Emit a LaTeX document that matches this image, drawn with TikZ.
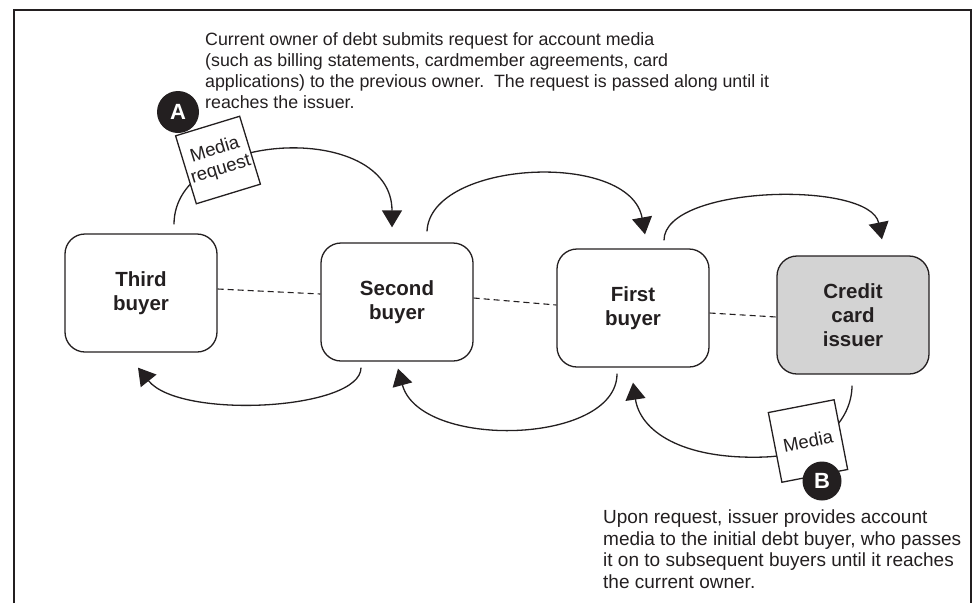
\documentclass[tikz,border=0pt]{standalone}
\usepackage{fontspec}
\setmainfont{Liberation Sans}
\usetikzlibrary{arrows.meta}
\definecolor{ink}{HTML}{231F20}
\definecolor{issuergray}{HTML}{D3D3D3}
\begin{document}
\begin{tikzpicture}[x=1pt,y=-1pt,
  buyer/.style={draw=ink, line width=1.3pt, rounded corners=20pt, minimum width=152pt, minimum height=118pt, align=center, font=\fontsize{20.5}{24}\selectfont\bfseries, text=ink},
  link/.style={draw=ink, line width=1.1pt, dash pattern=on 6pt off 4pt},
  flow/.style={draw=ink, line width=1.3pt, -{Triangle[width=20pt,length=17pt]}},
  paper/.style={draw=ink, fill=white, line width=1.3pt, minimum width=67pt, minimum height=71pt, inner sep=1pt, align=center, font=\fontsize{18.5}{20}\selectfont, text=ink},
  badge/.style={circle, fill=ink, inner sep=0pt, text=white, font=\fontsize{22}{22}\selectfont\bfseries},
  note/.style={align=left, anchor=north west, inner sep=0pt, text=ink}]
\useasboundingbox (0,0) rectangle (974,603);
\draw[ink, line width=1.5pt] (14,603) -- (14,10) -- (971,10) -- (971,603);

\node[buyer] (third) at (141,293) {Third\\buyer};
\node[buyer] (second) at (397,302) {Second\\buyer};
\node[buyer] (first) at (633,308) {First\\buyer};
\node[buyer, fill=issuergray] (issuer) at (853,315) {Credit\\card\\issuer};

\draw[link] ([yshift=4pt]third.east) -- ([yshift=8pt]second.west);
\draw[link] ([yshift=4pt]second.east) -- ([yshift=3pt]first.west);
\draw[link] ([yshift=-5pt]first.east) -- ([yshift=-2pt]issuer.west);

\draw[flow] ([xshift=33pt,yshift=9pt]third.north) .. controls (174,130) and (392,120) .. ([xshift=-5pt,yshift=15pt]second.north);
\draw[flow] ([xshift=30pt,yshift=11pt]second.north) .. controls (430,160) and (630,150) .. ([xshift=12pt,yshift=14pt]first.north);
\draw[flow] ([xshift=31pt,yshift=8pt]first.north) .. controls (664,185) and (870,180) .. ([xshift=29pt,yshift=16pt]issuer.north);

\draw[flow] ([xshift=-36pt,yshift=-6pt]second.south) .. controls (361,410) and (180,420) .. ([xshift=-3pt,yshift=-15pt]third.south);
\draw[flow] ([xshift=-16pt,yshift=-6pt]first.south) .. controls (617,445) and (420,450) .. ([xshift=1pt,yshift=-7pt]second.south);
\draw[flow] ([xshift=-1pt,yshift=-11pt]issuer.south) .. controls (852,420) and (820,455) .. (765,457) .. controls (680,460) and (640,430) .. ([yshift=-15pt]first.south);

\node[paper, rotate=17] (req) at (218,160) {Media\\request};
\node[paper, rotate=11] (media) at (808,441) {Media};
\node[badge, minimum size=42pt] (a) at (178,112) {A};
\node[badge, minimum size=39pt] (b) at (822,481) {B};

\node[note, font=\fontsize{17.8}{21}\selectfont] (topnote) at (205,32) {Current owner of debt submits request for account media\\(such as billing statements, cardmember agreements, card\\applications) to the previous owner.\ \ The request is passed along until it\\reaches the issuer.};
\node[note, font=\fontsize{19}{21.5}\selectfont] (botnote) at (603,510) {Upon request, issuer provides account\\media to the initial debt buyer, who passes\\it on to subsequent buyers until it reaches\\the current owner.};
\end{tikzpicture}
\end{document}
